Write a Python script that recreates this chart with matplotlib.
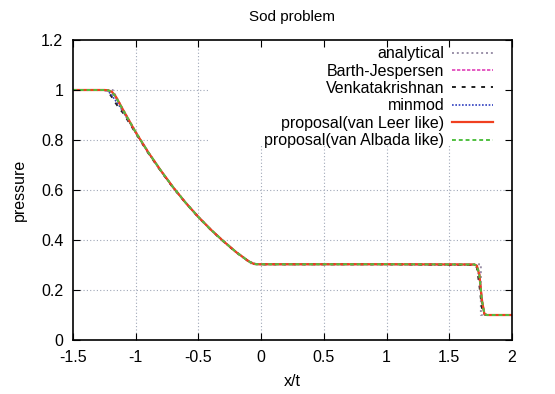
import matplotlib.pyplot as plt
from matplotlib.patches import Rectangle

plt.rcParams['font.family'] = ['Liberation Sans', 'DejaVu Sans']

# analytical solution
x_exact = [-1.5, -1.183, -1.16, -1.13, -1.1, -1.0, -0.9, -0.8, -0.7, -0.6, -0.5,
           -0.4, -0.3, -0.2, -0.1, -0.07, 1.752, 1.752, 2.0]
p_exact = [1.0, 1.0, 0.977, 0.949, 0.921, 0.833, 0.752, 0.678, 0.610, 0.549, 0.493,
           0.441, 0.395, 0.352, 0.314, 0.303, 0.303, 0.1, 0.1]

# numerical results
x_num = [-1.5, -1.25, -1.22, -1.19, -1.16, -1.13, -1.10, -1.0, -0.9, -0.8, -0.7,
         -0.6, -0.5, -0.4, -0.3, -0.2, -0.1, -0.06, -0.03, 0.0, 1.0, 1.70, 1.72,
         1.74, 1.76, 1.78, 1.80, 2.0]
p_barth = [1.0, 1.0, 0.998, 0.99, 0.97, 0.945, 0.918, 0.83, 0.75, 0.677, 0.609,
           0.548, 0.492, 0.441, 0.395, 0.352, 0.315, 0.305, 0.303, 0.303, 0.303,
           0.302, 0.298, 0.27, 0.17, 0.105, 0.1, 0.1]
p_venkat = [1.0, 1.0, 0.993, 0.972, 0.948, 0.926, 0.908, 0.828, 0.748, 0.676, 0.608,
            0.547, 0.491, 0.44, 0.394, 0.351, 0.315, 0.305, 0.303, 0.303, 0.303,
            0.300, 0.29, 0.22, 0.13, 0.102, 0.1, 0.1]
p_minmod = [1.0, 1.0, 0.996, 0.978, 0.957, 0.936, 0.913, 0.829, 0.749, 0.677, 0.609,
            0.548, 0.492, 0.441, 0.395, 0.352, 0.316, 0.306, 0.304, 0.303, 0.303,
            0.301, 0.295, 0.25, 0.15, 0.104, 0.1, 0.1]
p_vanleer = [1.0, 1.0, 0.999, 0.993, 0.975, 0.948, 0.92, 0.831, 0.751, 0.678, 0.61,
             0.548, 0.492, 0.441, 0.395, 0.352, 0.315, 0.305, 0.303, 0.303, 0.303,
             0.302, 0.297, 0.26, 0.16, 0.104, 0.1, 0.1]
p_vanalbada = [1.0, 1.0, 0.999, 0.992, 0.973, 0.946, 0.919, 0.831, 0.751, 0.678, 0.61,
               0.548, 0.492, 0.441, 0.395, 0.352, 0.315, 0.305, 0.303, 0.303, 0.303,
               0.302, 0.297, 0.26, 0.16, 0.104, 0.1, 0.1]

xticks = [-1.5, -1, -0.5, 0, 0.5, 1, 1.5, 2]
yticks = [0, 0.2, 0.4, 0.6, 0.8, 1, 1.2]

fig = plt.figure(figsize=(5.55, 3.94), dpi=100)
ax = fig.add_axes([0.1315, 0.137, 0.791, 0.7615])

# grid drawn by hand so the key's blank area can sit over it
gridstyle = dict(color='#a0a8b8', linestyle=(0, (1, 2)), lw=0.8, zorder=1)
for xt in xticks[1:-1]:
    ax.axvline(xt, **gridstyle)
for yt in yticks[1:-1]:
    ax.axhline(yt, **gridstyle)
ax.add_patch(Rectangle((0.31, 0.65), 0.69, 0.35, transform=ax.transAxes,
                       facecolor='white', edgecolor='none', zorder=1.2))

ax.plot(x_exact, p_exact, color='#9a90a8', linestyle=(0, (1, 1.5)), lw=1.4, label='analytical')
ax.plot(x_num, p_barth, color='#e040b8', linestyle=(0, (2, 1)), lw=1.2, label='Barth-Jespersen')
ax.plot(x_num, p_venkat, color='#202020', linestyle=(0, (2, 3)), lw=1.4, label='Venkatakrishnan')
ax.plot(x_num, p_minmod, color='#3040c0', linestyle=(0, (1, 1)), lw=1.2, label='minmod')
ax.plot(x_num, p_vanleer, color='#f04020', linestyle='-', lw=1.6, label='proposal(van Leer like)')
ax.plot(x_num, p_vanalbada, color='#50c040', linestyle=(0, (2, 1.5)), lw=1.4, label='proposal(van Albada like)')

ax.set_xlim(-1.5, 2)
ax.set_ylim(0, 1.2)
ax.set_xticks(xticks)
ax.set_xticklabels(['-1.5', '-1', '-0.5', '0', '0.5', '1', '1.5', '2'])
ax.set_yticks(yticks)
ax.set_yticklabels(['0', '0.2', '0.4', '0.6', '0.8', '1', '1.2'])
ax.set_axisbelow(False)
ax.tick_params(direction='in', top=True, right=True, labelsize=11.5, length=5, pad=7)
for s in ax.spines.values():
    s.set_linewidth(1.2)

ax.set_title('Sod problem', fontsize=11, pad=14)
ax.set_xlabel('x/t', fontsize=11.5, labelpad=7)
ax.set_ylabel('pressure', fontsize=11.5, labelpad=10)

leg = ax.legend(loc='upper right', bbox_to_anchor=(0.968, 0.995), markerfirst=False,
                fontsize=11.5, frameon=False, handlelength=2.56, labelspacing=0.15,
                borderpad=0.3, borderaxespad=0.0, handletextpad=0.5)

fig.savefig('out.png')
